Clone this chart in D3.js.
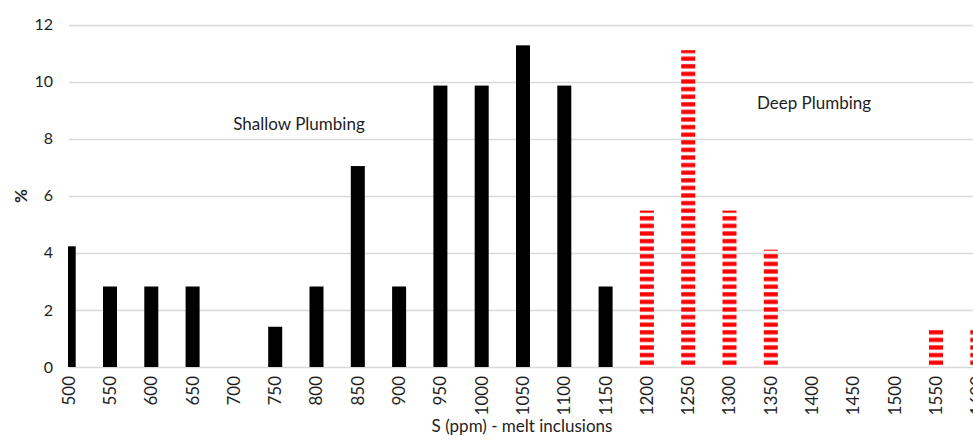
<!DOCTYPE html>
<html><head><meta charset="utf-8">
<script src="https://cdn.jsdelivr.net/npm/d3@7"></script>
<style>body{margin:0;background:#fff;} svg{display:block;font-family:Lato, "Open Sans", sans-serif;}</style>
</head><body>
<svg id="c" width="973" height="440"></svg>
<script>
const categories = ["500","550","600","650","700","750","800","850","900","950","1000","1050","1100","1150","1200","1250","1300","1350","1400","1450","1500","1550","1600"];
const shallow = [4.23,2.82,2.82,2.82,0,1.41,2.82,7.04,2.82,9.86,9.86,11.27,9.86,2.82,0,0,0,0,0,0,0,0,0];
const deep = [0,0,0,0,0,0,0,0,0,0,0,0,0,0,5.48,11.1,5.48,4.11,0,0,0,1.37,1.37];
const yTicks = [0,2,4,6,8,10,12];
const annotations = ["Shallow Plumbing","Deep Plumbing"];

const svg = d3.select("#c");
const W = 973, H = 440;
const x0 = 68.7, step = 41.3;
const x = d3.scalePoint().domain(categories).range([x0, x0 + step*(categories.length-1)]);
const y = d3.scaleLinear().domain([0,12]).range([367, 24.5]);
const bw = 14;

const defs = svg.append("defs");
defs.append("clipPath").attr("id","clip").append("rect").attr("x",68).attr("y",0).attr("width",W-68).attr("height",368);
const pat = defs.append("pattern").attr("id","stripes").attr("patternUnits","userSpaceOnUse")
  .attr("width",20).attr("height",7.6).attr("y",367);
pat.append("rect").attr("x",0).attr("y",1.2).attr("width",20).attr("height",4.2).attr("fill","#ff0000");

// grid
svg.append("g").selectAll("line").data(yTicks).join("line")
  .attr("x1",69).attr("x2",W).attr("y1",d=>Math.round(y(d))+0.5).attr("y2",d=>Math.round(y(d))+0.5)
  .attr("stroke","#d9d9d9").attr("stroke-width",1.5);

// y labels
svg.append("g").selectAll("text").data(yTicks).join("text")
  .attr("x",53).attr("y",d=>y(d)).attr("dy","0.35em").attr("text-anchor","end")
  .attr("font-size",16).attr("fill","#1e1e1e").text(d=>d);

const plot = svg.append("g").attr("clip-path","url(#clip)");
plot.selectAll("rect.s").data(categories.map((c,i)=>({c,v:shallow[i]})).filter(d=>d.v>0)).join("rect")
  .attr("class","s").attr("x",d=>x(d.c)-bw/2).attr("width",bw)
  .attr("y",d=>y(d.v)).attr("height",d=>y(0)-y(d.v)).attr("fill","#000");
plot.selectAll("rect.d").data(categories.map((c,i)=>({c,v:deep[i]})).filter(d=>d.v>0)).join("rect")
  .attr("class","d").attr("x",d=>x(d.c)-bw/2).attr("width",bw)
  .attr("y",d=>y(d.v)).attr("height",d=>y(0)-y(d.v)).attr("fill","url(#stripes)");

// x labels
svg.append("g").selectAll("text").data(categories).join("text")
  .attr("transform",d=>`translate(${x(d)},376) rotate(-90)`)
  .attr("dy","0.35em").attr("text-anchor","end")
  .attr("font-size",17).attr("fill","#1e1e1e").text(d=>d);

// titles
svg.append("text").attr("x",522).attr("y",432).attr("text-anchor","middle")
  .attr("font-size",17).attr("fill","#1e1e1e").text("S (ppm) - melt inclusions");
svg.append("text").attr("transform","translate(21,196) rotate(-90)").attr("dy","0.35em")
  .attr("text-anchor","middle").attr("font-size",17).attr("font-weight","bold").attr("fill","#1e1e1e").text("%");

// annotations
svg.append("text").attr("x",299).attr("y",130).attr("text-anchor","middle")
  .attr("font-size",17).attr("fill","#1e1e1e").text(annotations[0]);
svg.append("text").attr("x",814).attr("y",109).attr("text-anchor","middle")
  .attr("font-size",17).attr("fill","#1e1e1e").text(annotations[1]);
</script>
</body></html>
